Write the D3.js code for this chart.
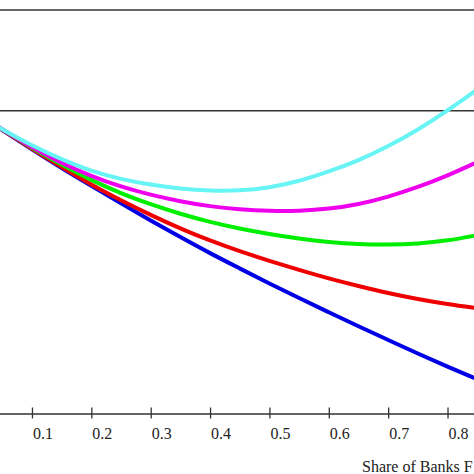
<!DOCTYPE html>
<html>
<head>
<meta charset="utf-8">
<script src="https://cdn.jsdelivr.net/npm/d3@7"></script>
<style>
  body { margin: 0; background: #fff; }
  svg { display: block; }
</style>
</head>
<body>
<div id="chart"></div>
<script>
// share of banks on the x axis
const shares = [0, 0.05, 0.1, 0.15, 0.2, 0.25, 0.3, 0.35, 0.4, 0.45, 0.5, 0.55, 0.6, 0.65, 0.7, 0.75, 0.8, 0.85];

// curves (relative to 1 at share 0)
const blueVals    = [1, 0.9962, 0.9923, 0.9886, 0.9851, 0.9816, 0.9782, 0.9749, 0.9717, 0.9687, 0.9657, 0.9628, 0.9600, 0.9572, 0.9545, 0.9518, 0.9492, 0.9467];
const redVals     = [1, 0.9962, 0.9924, 0.9888, 0.9853, 0.9822, 0.9793, 0.9766, 0.9742, 0.9721, 0.9702, 0.9684, 0.9667, 0.9652, 0.9638, 0.9626, 0.9616, 0.9608];
const greenVals   = [1, 0.9963, 0.9926, 0.9893, 0.9862, 0.9836, 0.9814, 0.9795, 0.9779, 0.9766, 0.9755, 0.9746, 0.9739, 0.9735, 0.9734, 0.9736, 0.9742, 0.9753];
const magentaVals = [1, 0.9963, 0.9927, 0.9896, 0.9870, 0.9849, 0.9833, 0.9820, 0.9810, 0.9804, 0.9801, 0.9801, 0.9805, 0.9814, 0.9829, 0.9848, 0.9871, 0.9898];
const cyanVals    = [1, 0.9962, 0.9931, 0.9903, 0.9880, 0.9864, 0.9853, 0.9845, 0.9841, 0.9841, 0.9847, 0.9860, 0.9879, 0.9901, 0.9929, 0.9962, 1.0000, 1.0042];

// horizontal reference lines
const refLines = [1.02, 1.0];

const xTicks = [0.1, 0.2, 0.3, 0.4, 0.5, 0.6, 0.7, 0.8];
const xLabel = 'Share of Banks F';

const series = [
  { key: 'blue', values: blueVals, color: '#0000e6' },
  { key: 'red', values: redVals, color: '#ee0000' },
  { key: 'green', values: greenVals, color: '#00ee00' },
  { key: 'magenta', values: magentaVals, color: '#ee00ee' },
  { key: 'cyan', values: cyanVals, color: '#66f4f4' }
];

const W = 474, H = 474;

const svg = d3.select('#chart')
  .append('svg')
  .attr('width', W)
  .attr('height', H);

// the picture is a crop: share 0 sits just left of the frame
const x = d3.scaleLinear()
  .domain([0, 0.85])
  .range([-27.4, 477.2]);

const y = d3.scaleLinear()
  .domain([0.94, 1.02])
  .range([413, 10]);

// reference lines
svg.selectAll('.ref')
  .data(refLines)
  .join('line')
  .attr('class', 'ref')
  .attr('x1', 0)
  .attr('x2', W)
  .attr('y1', d => y(d))
  .attr('y2', d => y(d))
  .attr('stroke', '#333')
  .attr('stroke-width', 1.6);

// curves (basis smooths out reading noise)
const line = d3.line()
  .x((d, i) => x(shares[i]))
  .y(d => y(d))
  .curve(d3.curveBasis);

svg.selectAll('.curve')
  .data(series)
  .join('path')
  .attr('class', 'curve')
  .attr('fill', 'none')
  .attr('stroke', d => d.color)
  .attr('stroke-width', 4)
  .attr('d', d => line(d.values));

// x axis
const xAxis = d3.axisBottom(x)
  .tickValues(xTicks)
  .tickSize(5)
  .tickFormat(d3.format('.1f'));

const gx = svg.append('g')
  .attr('transform', `translate(0,${y(0.94) + 0.5})`)
  .call(xAxis);

gx.select('.domain')
  .attr('stroke', '#333')
  .attr('stroke-width', 1.6);

gx.selectAll('.tick line')
  .attr('y1', -6)
  .attr('y2', 5)
  .attr('stroke', '#333')
  .attr('stroke-width', 1.3);

gx.selectAll('.tick text')
  .attr('x', 0.5)
  .attr('y', 25.5)
  .attr('dy', 0)
  .attr('text-anchor', 'start')
  .style('font-family', '"Liberation Serif", "Times New Roman", serif')
  .style('font-size', '16px')
  .style('fill', '#222');

svg.append('text')
  .attr('x', 362)
  .attr('y', 472)
  .text(xLabel)
  .style('font-family', '"Liberation Serif", "Times New Roman", serif')
  .style('font-size', '16px')
  .style('fill', '#222');
</script>
</body>
</html>
